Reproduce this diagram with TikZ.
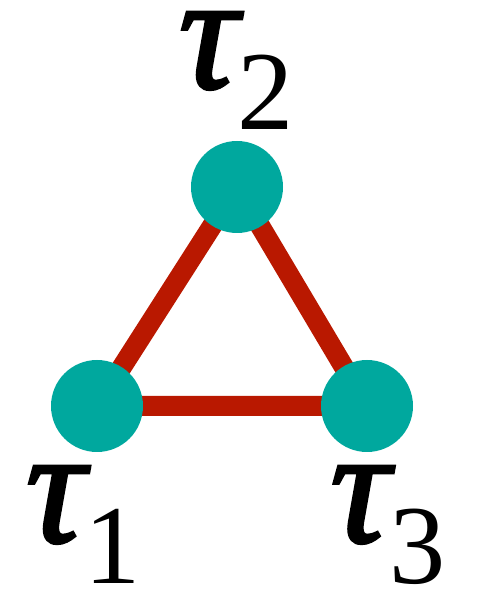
\documentclass[tikz,border=0pt]{standalone}
\usepackage{fontspec}
\setmainfont{Liberation Serif}
\newfontface\taufont{Liberation Serif Italic}[FakeBold=1.8]
\usepackage{tikz}
\usetikzlibrary{positioning, backgrounds}
\usepackage{xcolor}
\definecolor{siteteal}{RGB}{0,168,158}
\definecolor{bondred}{RGB}{185,24,0}
\newcommand{\taulabel}[1]{{\fontsize{94}{94}\taufont τ}\raisebox{-0.84cm}{\fontsize{64}{64}\selectfont #1}}

\begin{document}
\begin{tikzpicture}[
  site/.style={circle, fill=siteteal, minimum size=1.84cm, inner sep=0pt},
  bond/.style={draw=bondred, line width=0.4cm},
  lab/.style={anchor=base, inner sep=0pt}]
  \useasboundingbox (0,0) rectangle (9.64,11.78);
  % sites
  \node[site] (tau1) at (1.94,3.66) {};
  \node[site] (tau2) at (4.74,8.04) {};
  \node[site] (tau3) at (7.34,3.66) {};
  % bonds
  \begin{scope}[on background layer]
    \draw[bond] (tau1.center) -- (tau2.center) -- (tau3.center) -- cycle;
  \end{scope}
  % labels
  \node[lab] (lab2) at (4.73,10.02) {\taulabel{2}};
  \node[lab] (lab1) at (1.67,0.94) {\taulabel{1}};
  \node[lab] (lab3) at (7.76,0.94) {\taulabel{3}};
\end{tikzpicture}
\end{document}
